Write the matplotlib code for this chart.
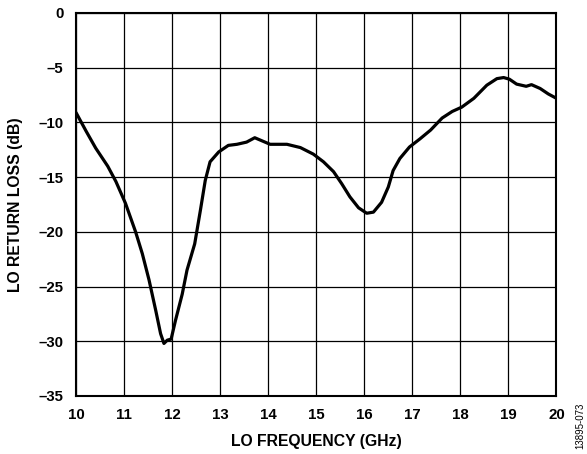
import matplotlib
matplotlib.use("Agg")
import matplotlib.pyplot as plt

plt.rcParams['font.family'] = ['Liberation Sans', 'DejaVu Sans']

# LO return loss trace
freq = [10.0, 10.21, 10.41, 10.66, 10.83, 11.03, 11.24, 11.38, 11.52, 11.66,
        11.76, 11.83, 11.90, 11.98, 12.07, 12.21, 12.31, 12.47, 12.59, 12.69,
        12.79, 12.97, 13.17, 13.35, 13.55, 13.72, 13.88, 14.04, 14.39, 14.67,
        14.94, 15.15, 15.36, 15.53, 15.70, 15.88, 16.05, 16.19, 16.36, 16.50,
        16.60, 16.74, 16.94, 17.16, 17.38, 17.62, 17.83, 18.03, 18.28, 18.55,
        18.76, 18.90, 19.02, 19.17, 19.37, 19.48, 19.66, 19.83, 20.0]
loss = [-9.1, -10.8, -12.35, -14.0, -15.4, -17.4, -20.0, -22.0, -24.4, -27.2,
        -29.3, -30.2, -29.9, -29.8, -28.1, -25.7, -23.5, -21.1, -18.0, -15.3,
        -13.6, -12.7, -12.1, -12.0, -11.8, -11.4, -11.7, -12.0, -12.0, -12.3,
        -12.9, -13.6, -14.5, -15.6, -16.8, -17.8, -18.3, -18.2, -17.3, -15.9,
        -14.4, -13.3, -12.25, -11.5, -10.7, -9.6, -9.0, -8.6, -7.8, -6.6,
        -6.0, -5.9, -6.05, -6.5, -6.7, -6.55, -6.9, -7.4, -7.8]

xticks = list(range(10, 21))
yticks = [0, -5, -10, -15, -20, -25, -30, -35]

fig = plt.figure(figsize=(5.87, 4.54), dpi=100)
ax = fig.add_axes([0.1295, 0.1278, 0.8185, 0.8436])

ax.plot(freq, loss, color='black', linewidth=2.3, solid_joinstyle='round',
        solid_capstyle='round')

ax.set_xlim(10, 20)
ax.set_ylim(-35, 0)
ax.set_xticks(xticks)
ax.set_yticks(yticks)
ax.set_yticklabels(['0' if v == 0 else '\u2013%d' % -v for v in yticks])
ax.grid(True, color='black', linewidth=0.9)
ax.tick_params(axis='x', length=0, pad=9, labelsize=10.8)
ax.tick_params(axis='y', length=0, pad=9, labelsize=10.8)
for lab in ax.get_xticklabels() + ax.get_yticklabels():
    lab.set_fontweight('bold')
for sp in ax.spines.values():
    sp.set_linewidth(1.5)

ax.set_xlabel('LO FREQUENCY (GHz)', fontsize=11.3, fontweight='bold')
ax.set_ylabel('LO RETURN LOSS (dB)', fontsize=11.3, fontweight='bold')
ax.xaxis.set_label_coords(0.5, -0.098)
ax.yaxis.set_label_coords(-0.11, 0.5)

fig.text(0.988, 0.062, '13895-073', rotation=90, fontsize=7, ha='center', va='center')

fig.savefig('out.png', dpi=100)
